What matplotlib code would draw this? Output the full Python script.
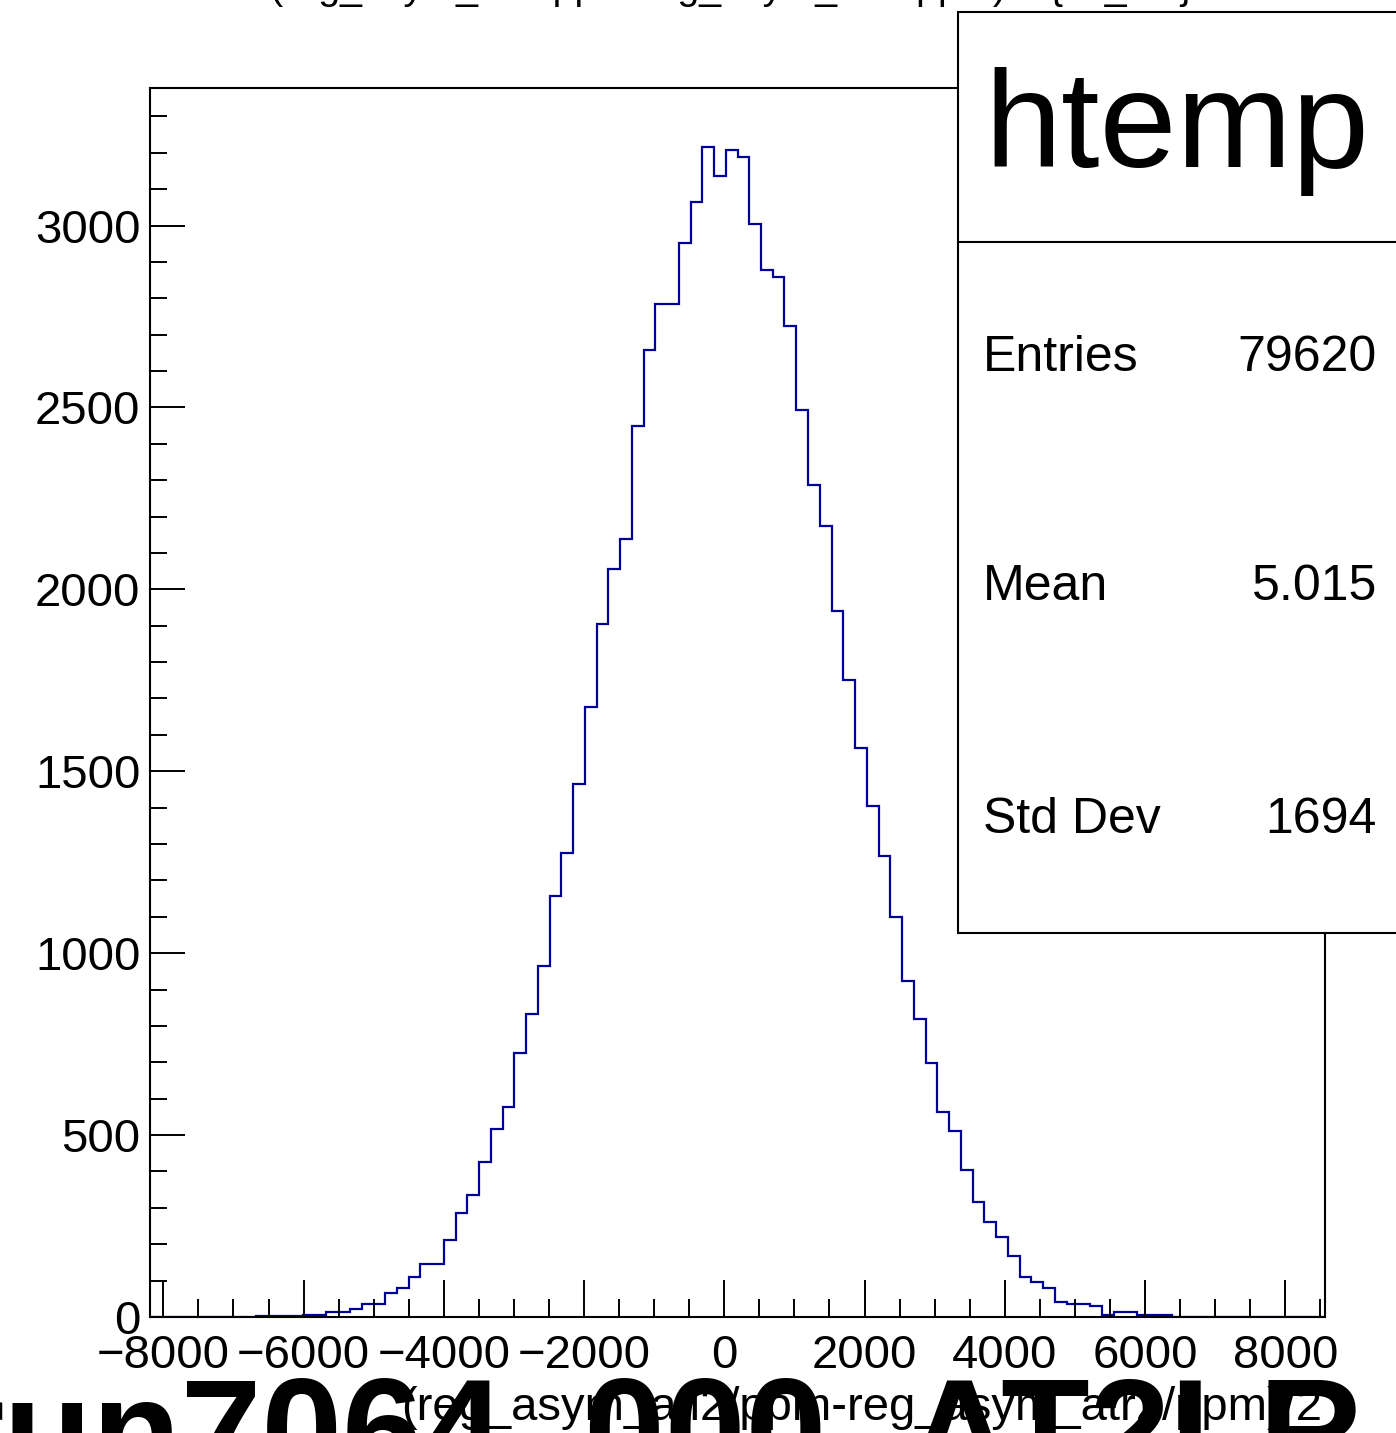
import matplotlib
matplotlib.use("Agg")
import matplotlib.pyplot as plt
import numpy as np
from matplotlib.patches import Rectangle
from matplotlib.ticker import MultipleLocator

plt.rcParams["font.family"] = ["Liberation Sans", "DejaVu Sans"]

# histogram (ROOT htemp, 100 bins)
x_min, x_max, n_bins = -8190.0, 8567.0, 100
counts = [
    0, 0, 0, 0, 0, 0, 0, 0, 0, 3,
    3, 4, 4, 5, 5, 15, 15, 21, 36, 36,
    65, 79, 109, 146, 146, 212, 285, 335, 425, 518,
    578, 725, 834, 965, 1157, 1275, 1464, 1677, 1906, 2057,
    2139, 2448, 2659, 2783, 2783, 2952, 3065, 3217, 3135, 3208,
    3188, 3003, 2878, 2858, 2725, 2492, 2286, 2174, 1941, 1750,
    1563, 1405, 1266, 1100, 923, 820, 697, 563, 511, 403,
    315, 262, 221, 168, 109, 96, 79, 42, 36, 36,
    29, 5, 13, 13, 5, 5, 5, 0, 0, 0,
    0, 0, 0, 0, 0, 0, 0, 0, 0, 0,
]
y_max = 3378

hist_title = "(reg_asym_atl2/ppm-reg_asym_atr2/ppm)/2 {ok_cut}"
x_title = "(reg_asym_atl2/ppm-reg_asym_atr2/ppm)/2"
canvas_label = "run7064_000_AT2LR"
stats_name = "htemp"
stats_rows = [("Entries", "79620"), ("Mean", "5.015"), ("Std Dev", "1694")]

W, H = 1396, 1433
fig = plt.figure(figsize=(W / 100, H / 100), dpi=100)


def fx(px):
    return px / W


def fy(py):
    return 1 - py / H


ax = fig.add_axes([fx(150), fy(1317), fx(1175), 1229 / H])
edges = np.linspace(x_min, x_max, n_bins + 1)
ax.stairs(counts, edges, color="#000099", linewidth=1.6)

ax.set_xlim(x_min, x_max)
ax.set_ylim(0, y_max)
ax.xaxis.set_major_locator(MultipleLocator(2000))
ax.xaxis.set_minor_locator(MultipleLocator(500))
ax.yaxis.set_major_locator(MultipleLocator(500))
ax.yaxis.set_minor_locator(MultipleLocator(100))
ax.tick_params(which="both", direction="in", top=False, right=False,
               width=1.4, color="black")
ax.tick_params(axis="x", which="major", length=27, labelsize=34, pad=12)
ax.tick_params(axis="x", which="minor", length=13)
ax.tick_params(axis="y", which="major", length=25, labelsize=34, pad=7)
ax.tick_params(axis="y", which="minor", length=12)
for s in ax.spines.values():
    s.set_linewidth(1.5)

# x axis title, right aligned
fig.text(fx(1322), fy(1420), x_title, ha="right", va="baseline", fontsize=34)

# histogram title, mostly off the top of the canvas
fig.text(fx(270), fy(-1), hist_title, ha="left", va="baseline", fontsize=28.4)

# stats box
box = Rectangle((fx(958), fy(933)), fx(460), (933 - 12) / H,
                transform=fig.transFigure, facecolor="white",
                edgecolor="black", linewidth=1.5, zorder=5)
fig.patches.append(box)
fig.add_artist(plt.Line2D([fx(958), fx(1420)], [fy(242), fy(242)],
                          color="black", linewidth=1.5, zorder=6))
fig.text(fx(1177), fy(167), stats_name, ha="center", va="baseline",
         fontsize=99.7, zorder=7)
row_y = [358, 587, 820]
for (name, val), yy in zip(stats_rows, row_y):
    fig.text(fx(983), fy(yy), name, ha="left", va="center", fontsize=36, zorder=7)
    fig.text(fx(1377), fy(yy), val, ha="right", va="center", fontsize=36, zorder=7)

# big canvas label at the bottom, cut off by the canvas edge
fig.text(fx(-53), fy(1480), canvas_label, ha="left", va="baseline",
         fontsize=104.4, fontweight="bold", zorder=8)

fig.savefig("out.png", dpi=100)
